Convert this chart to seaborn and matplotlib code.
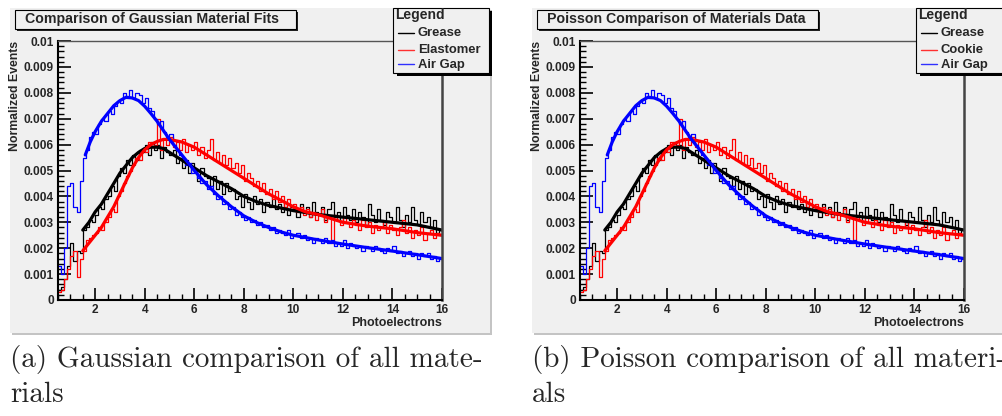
import numpy as np
import pandas as pd
import matplotlib
matplotlib.use("Agg")
import matplotlib.pyplot as plt
import seaborn as sns
from matplotlib.patches import Rectangle
from matplotlib.lines import Line2D
from matplotlib.ticker import MultipleLocator

# ---------------- data ----------------
bin_lo, bin_hi, n_bins = 0.5, 16.0, 124

grease_hist = [
    0.0004, 0.0005, 0.0008, 0.0013, 0.0022, 0.0015, 0.0019, 0.0018,
    0.0027, 0.0028, 0.0031, 0.0030, 0.0033, 0.0036, 0.0035, 0.0039,
    0.0040, 0.0044, 0.0042, 0.0048, 0.0051, 0.0049, 0.0054, 0.0052,
    0.0056, 0.0054, 0.0058, 0.0057, 0.0060, 0.0056, 0.0061, 0.0058,
    0.0060, 0.0055, 0.0059, 0.0057, 0.0056, 0.0058, 0.0053, 0.0055,
    0.0051, 0.0054, 0.0049, 0.0053, 0.0050, 0.0046, 0.0051, 0.0048,
    0.0047, 0.0044, 0.0048, 0.0043, 0.0046, 0.0041, 0.0045, 0.0042,
    0.0043, 0.0039, 0.0040, 0.0036, 0.0041, 0.0038, 0.0035, 0.0040,
    0.0037, 0.0039, 0.0034, 0.0038, 0.0036, 0.0040, 0.0035, 0.0037,
    0.0034, 0.0038, 0.0033, 0.0036, 0.0035, 0.0032, 0.0037, 0.0034,
    0.0036, 0.0032, 0.0038, 0.0034, 0.0033, 0.0036, 0.0031, 0.0035,
    0.0038, 0.0032, 0.0034, 0.0030, 0.0036, 0.0033, 0.0031, 0.0035,
    0.0030, 0.0034, 0.0032, 0.0029, 0.0037, 0.0033, 0.0030, 0.0035,
    0.0031, 0.0029, 0.0034, 0.0032, 0.0030, 0.0036, 0.0031, 0.0028,
    0.0033, 0.0030, 0.0036, 0.0031, 0.0029, 0.0034, 0.0030, 0.0032,
    0.0028, 0.0031, 0.0026, 0.0027,
]

elastomer_hist = [
    0.0003, 0.0004, 0.0008, 0.0012, 0.0017, 0.0019, 0.0009, 0.0016,
    0.0019, 0.0023, 0.0024, 0.0025, 0.0026, 0.0028, 0.0027, 0.0030,
    0.0032, 0.0035, 0.0034, 0.0040, 0.0042, 0.0045, 0.0048, 0.0050,
    0.0052, 0.0055, 0.0054, 0.0058, 0.0057, 0.0061, 0.0059, 0.0060,
    0.0070, 0.0058, 0.0062, 0.0060, 0.0063, 0.0059, 0.0061, 0.0058,
    0.0062, 0.0057, 0.0060, 0.0058, 0.0061, 0.0056, 0.0059, 0.0055,
    0.0058, 0.0062, 0.0054, 0.0057, 0.0053, 0.0056, 0.0052, 0.0055,
    0.0051, 0.0053, 0.0049, 0.0052, 0.0046, 0.0049, 0.0047, 0.0044,
    0.0046, 0.0042, 0.0045, 0.0041, 0.0043, 0.0039, 0.0042, 0.0038,
    0.0040, 0.0036, 0.0039, 0.0035, 0.0037, 0.0034, 0.0036, 0.0033,
    0.0035, 0.0032, 0.0034, 0.0031, 0.0033, 0.0035, 0.0030, 0.0032,
    0.0022, 0.0033, 0.0031, 0.0029, 0.0032, 0.0030, 0.0028, 0.0031,
    0.0029, 0.0027, 0.0031, 0.0028, 0.0030, 0.0026, 0.0029, 0.0027,
    0.0028, 0.0030, 0.0026, 0.0029, 0.0027, 0.0025, 0.0028, 0.0031,
    0.0026, 0.0028, 0.0024, 0.0027, 0.0025, 0.0028, 0.0023, 0.0026,
    0.0027, 0.0024, 0.0026, 0.0025,
]

airgap_hist = [
    0.0013, 0.0010, 0.0020, 0.0044, 0.0045, 0.0036, 0.0034, 0.0046,
    0.0055, 0.0058, 0.0063, 0.0065, 0.0064, 0.0068, 0.0070, 0.0069,
    0.0073, 0.0072, 0.0075, 0.0077, 0.0076, 0.0080, 0.0078, 0.0081,
    0.0078, 0.0080, 0.0079, 0.0076, 0.0078, 0.0074, 0.0073, 0.0070,
    0.0068, 0.0069, 0.0065, 0.0063, 0.0064, 0.0060, 0.0058, 0.0056,
    0.0055, 0.0052, 0.0053, 0.0049, 0.0050, 0.0047, 0.0045, 0.0046,
    0.0043, 0.0044, 0.0041, 0.0039, 0.0040, 0.0037, 0.0038, 0.0035,
    0.0036, 0.0033, 0.0034, 0.0032, 0.0031, 0.0032, 0.0030, 0.0031,
    0.0029, 0.0030, 0.0028, 0.0029, 0.0027, 0.0028, 0.0026, 0.0027,
    0.0026, 0.0025, 0.0027, 0.0024, 0.0025, 0.0026, 0.0024, 0.0025,
    0.0023, 0.0024, 0.0022, 0.0024, 0.0023, 0.0022, 0.0024, 0.0022,
    0.0023, 0.0021, 0.0022, 0.0021, 0.0023, 0.0020, 0.0022, 0.0021,
    0.0020, 0.0021, 0.0019, 0.0021, 0.0020, 0.0019, 0.0021, 0.0020,
    0.0019, 0.0018, 0.0020, 0.0019, 0.0021, 0.0018, 0.0019, 0.0017,
    0.0018, 0.0019, 0.0017, 0.0018, 0.0016, 0.0018, 0.0017, 0.0018,
    0.0016, 0.0017, 0.0015, 0.0016,
]

grease_fit_x = [1.5, 1.75, 2.0, 2.25, 2.5, 2.75, 3.0, 3.25, 3.5, 3.75, 4.0, 4.25,
                4.5, 4.75, 5.0, 5.5, 6.0, 6.5, 7.0, 7.5, 8.0, 8.5, 9.0, 9.5,
                10, 11, 12, 13, 14, 15, 16]
grease_fit_y = [0.0027, 0.0030, 0.0034, 0.0037, 0.0041, 0.0045, 0.0049, 0.0052,
                0.0055, 0.0057, 0.00585, 0.0059, 0.0059, 0.00585, 0.0057, 0.0054,
                0.0051, 0.0048, 0.00455, 0.0043, 0.0040, 0.0038, 0.00365, 0.00355,
                0.00345, 0.0033, 0.0032, 0.0031, 0.0030, 0.0029, 0.0027]

elastomer_fit_x = [1.5, 1.75, 2.0, 2.25, 2.5, 2.75, 3.0, 3.25, 3.5, 3.75, 4.0, 4.25,
                   4.5, 4.75, 5.0, 5.5, 6.0, 6.5, 7.0, 7.5, 8.0, 8.5, 9.0, 9.5,
                   10, 10.5, 11, 11.5, 12, 13, 14, 15, 16]
elastomer_fit_y = [0.0019, 0.0022, 0.0025, 0.0028, 0.0032, 0.0036, 0.0041, 0.0046,
                   0.0051, 0.0055, 0.0058, 0.0060, 0.00612, 0.0062, 0.0062, 0.0061,
                   0.0059, 0.0056, 0.0053, 0.0050, 0.0047, 0.0044, 0.0041, 0.00385,
                   0.0036, 0.0034, 0.0033, 0.00315, 0.0030, 0.00285, 0.00275, 0.0026,
                   0.0025]

airgap_fit_x = [1.6, 1.8, 2.0, 2.25, 2.5, 2.75, 3.0, 3.25, 3.5, 3.75, 4.0, 4.25,
                4.5, 4.75, 5.0, 5.5, 6.0, 6.5, 7.0, 7.5, 8.0, 8.5, 9.0, 9.5,
                10, 11, 12, 13, 14, 15, 16]
airgap_fit_y = [0.0056, 0.0061, 0.0065, 0.0069, 0.0072, 0.0075, 0.0077, 0.00783,
                0.0078, 0.0077, 0.00748, 0.0072, 0.0069, 0.00655, 0.0062, 0.0056,
                0.0050, 0.00445, 0.0040, 0.0036, 0.00325, 0.0030, 0.0028, 0.00263,
                0.0025, 0.00232, 0.00216, 0.00202, 0.00189, 0.00175, 0.0016]

x_ticks = [2, 4, 6, 8, 10, 12, 14, 16]
x_tick_labels = ["2", "4", "6", "8", "10", "12", "14", "16"]
y_ticks = [0, 0.001, 0.002, 0.003, 0.004, 0.005, 0.006, 0.007, 0.008, 0.009, 0.01]
y_tick_labels = ["0", "0.001", "0.002", "0.003", "0.004", "0.005", "0.006",
                 "0.007", "0.008", "0.009", "0.01"]

panel_titles = ["Comparison of Gaussian Material Fits",
                "Poisson Comparison of Materials Data"]
legend_labels = [["Grease", "Elastomer", "Air Gap"],
                 ["Grease", "Cookie", "Air Gap"]]
captions = [["(a) Gaussian comparison of all mate-", "rials"],
            ["(b) Poisson comparison of all materi-", "als"]]
y_label = "Normalized Events"
x_label = "Photoelectrons"

# ---------------- figure ----------------
sns.set_style("white")
plt.rcParams["font.family"] = ["Liberation Sans", "DejaVu Sans"]

W, H = 1003, 416
fig = plt.figure(figsize=(W / 100, H / 100), dpi=100)
fig.patch.set_facecolor("white")

def fx(x):
    return x / W

def fy(y):
    return 1 - y / H

def rect(x0, y0, x1, y1, **kw):
    r = Rectangle((fx(x0), fy(y1)), (x1 - x0) / W, (y1 - y0) / H,
                  transform=fig.transFigure, **kw)
    fig.patches.append(r)
    return r

CANVAS = "#f0f0f0"
edges = np.linspace(bin_lo, bin_hi, n_bins + 1)
centers = 0.5 * (edges[:-1] + edges[1:])

hist_df = pd.DataFrame({
    "pe": np.tile(centers, 3),
    "events": grease_hist + elastomer_hist + airgap_hist,
    "series": ["Grease"] * n_bins + ["Elastomer"] * n_bins + ["Air Gap"] * n_bins,
})
hist_colors = {"Grease": "black", "Elastomer": "#ff0000", "Air Gap": "#0000ff"}

fits = [(grease_fit_x, grease_fit_y, "black"),
        (elastomer_fit_x, elastomer_fit_y, "#ff0000"),
        (airgap_fit_x, airgap_fit_y, "#0000ff")]

for p in range(2):
    ox = 522 * p
    # canvas
    rect(12 + ox, 10, 492 + ox, 335, facecolor="#c4c4c4", edgecolor="none", zorder=-3)
    rect(10 + ox, 8, 490 + ox, 333, facecolor=CANVAS, edgecolor="none", zorder=-2)

    ax = fig.add_axes([fx(58 + ox), fy(300), 384 / W, 259 / H])
    ax.set_facecolor(CANVAS)

    for name, col in hist_colors.items():
        sub = hist_df[hist_df["series"] == name]
        sns.histplot(data=sub, x="pe", weights="events", bins=list(edges),
                     element="step", fill=False, color=col, linewidth=0.9, ax=ax)
    for fxv, fyv, col in fits:
        sns.lineplot(x=fxv, y=fyv, color=col, linewidth=2.3, ax=ax,
                     estimator=None, sort=False)

    ax.set_xlim(bin_lo, bin_hi)
    ax.set_ylim(0, 0.01)
    ax.set_xlabel("")
    ax.set_ylabel("")
    ax.set_xticks(x_ticks, labels=x_tick_labels, fontweight="bold", fontsize=8.6)
    ax.set_yticks(y_ticks, labels=y_tick_labels, fontweight="bold", fontsize=8.6)
    ax.xaxis.set_minor_locator(MultipleLocator(0.5))
    ax.yaxis.set_minor_locator(MultipleLocator(0.0002))
    ax.tick_params(which="both", direction="in", top=False, right=False,
                   left=True, bottom=True, color="black")
    ax.tick_params(which="major", length=9, width=1.2, pad=3)
    ax.tick_params(which="minor", length=4.5, width=1.0)
    for s in ["left", "bottom"]:
        ax.spines[s].set_color("black")
        ax.spines[s].set_linewidth(1.5)
    ax.spines["top"].set_color("#555555")
    ax.spines["top"].set_linewidth(1.0)
    ax.spines["right"].set_color("#444444")
    ax.spines["right"].set_linewidth(1.8)

    # axis titles
    fig.text(fx(15 + ox), fy(41), y_label, rotation=90, ha="center", va="top",
             fontweight="bold", fontsize=8.8)
    fig.text(fx(442 + ox), fy(323), x_label, ha="right", va="center",
             fontweight="bold", fontsize=9)

    # title box
    rect(17 + ox, 12, 298 + ox, 31, facecolor="#222222", edgecolor="none", zorder=2)
    rect(15 + ox, 10, 296 + ox, 29, facecolor=CANVAS, edgecolor="black",
         linewidth=0.8, zorder=3)
    fig.text(fx(25 + ox), fy(19.5), panel_titles[p], ha="left", va="center",
             fontweight="bold", fontsize=10.2, zorder=4)

    # legend box
    lx = 393 + ox + (1 if p == 1 else 0)
    rect(lx + 4, 11, lx + 99, 76, facecolor="black", edgecolor="none", zorder=2)
    rect(lx, 8, lx + 96, 73, facecolor=CANVAS, edgecolor="black",
         linewidth=0.8, zorder=3)
    fig.text(fx(lx + 2), fy(15.5), "Legend", ha="left", va="center",
             fontweight="bold", fontsize=10, zorder=4)
    entry_y = [32.7, 49.5, 64.3]
    entry_cols = ["black", "#ff3030", "#3030ff"]
    for lab, ey, col in zip(legend_labels[p], entry_y, entry_cols):
        fig.lines.append(Line2D([fx(lx + 5), fx(lx + 21)], [fy(ey), fy(ey)],
                                transform=fig.transFigure, color=col,
                                linewidth=1.0, zorder=4))
        fig.text(fx(lx + 25), fy(ey + 0.5), lab, ha="left", va="center",
                 fontweight="bold", fontsize=9.4, zorder=4)

    # caption
    fig.text(fx(10 + ox), fy(367), captions[p][0], ha="left", va="baseline",
             family=["cmr10", "DejaVu Serif"], fontsize=21)
    fig.text(fx(10 + ox), fy(402), captions[p][1], ha="left", va="baseline",
             family=["cmr10", "DejaVu Serif"], fontsize=21)

fig.savefig("out.png", dpi=100, facecolor="white")
